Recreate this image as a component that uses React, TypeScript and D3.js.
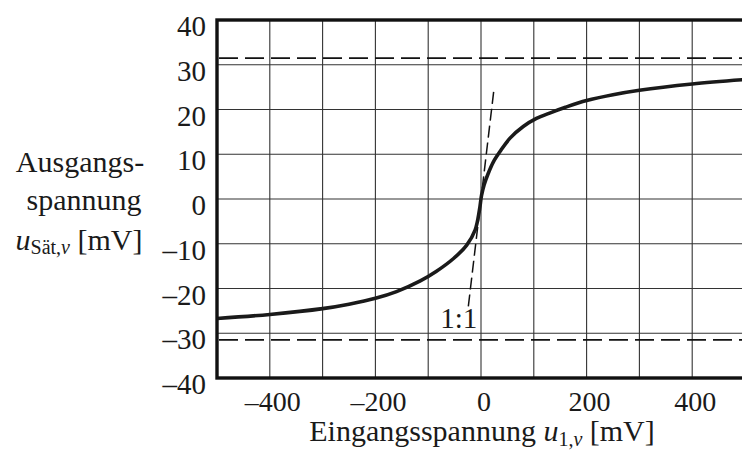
import React, { useRef, useEffect } from 'react';
import { select, scaleLinear, line, curveCatmullRom } from 'd3';

// Übertragungskennlinie (Eingang -> Ausgang) in mV
const inputMv = [-500, -400, -300, -250, -200, -160, -115, -85, -52, -27, -11, -3, 1, 6, 14, 23, 36, 55, 80, 105, 130, 160, 200, 250, 300, 400, 500];
const outputMv = [-26.7, -25.8, -24.5, -23.5, -22.2, -20.7, -18.3, -16.2, -13.3, -10.3, -6.9, -2.5, 0.8, 3.2, 5.8, 8.2, 10.6, 13.6, 16.2, 18.0, 19.2, 20.5, 22.0, 23.3, 24.3, 25.7, 26.7];
const satLevels = [31.5, -31.5];
const oneToOne = [-24, 25];
const xTicks = [-400, -200, 0, 200, 400];
const yTicks = [40, 30, 20, 10, 0, -10, -20, -30, -40];
const xGrid = [-500, -400, -300, -200, -100, 0, 100, 200, 300, 400, 500];

const FONT = '"Liberation Serif", "Times New Roman", serif';
const fmt = (v: number) => (v < 0 ? '\u2013' + Math.abs(v) : String(v));

function App() {
  const svgRef = useRef<SVGSVGElement>(null);

  useEffect(() => {
    const svg = select(svgRef.current);
    svg.selectAll('*').remove();

    const x = scaleLinear().domain([-500, 500]).range([217, 745]);
    const y = scaleLinear().domain([-40, 40]).range([378, 20]);

    // grid
    const grid = svg.append('g').attr('stroke', '#333').attr('stroke-width', 1.1);
    grid
      .selectAll('line.v')
      .data(xGrid)
      .join('line')
      .attr('x1', (d) => x(d))
      .attr('x2', (d) => x(d))
      .attr('y1', y(40))
      .attr('y2', y(-40));
    grid
      .selectAll('line.h')
      .data(yTicks)
      .join('line')
      .attr('x1', x(-500))
      .attr('x2', x(500))
      .attr('y1', (d) => y(d))
      .attr('y2', (d) => y(d));

    // saturation levels
    svg
      .append('g')
      .selectAll('line')
      .data(satLevels)
      .join('line')
      .attr('x1', x(-500) + 2)
      .attr('x2', x(500))
      .attr('y1', (d) => y(d))
      .attr('y2', (d) => y(d))
      .attr('stroke', '#111')
      .attr('stroke-width', 1.7)
      .attr('stroke-dasharray', '19 7');

    // 1:1 line
    svg
      .append('line')
      .attr('x1', x(oneToOne[0]))
      .attr('y1', y(oneToOne[0]))
      .attr('x2', x(oneToOne[1]))
      .attr('y2', y(oneToOne[1]))
      .attr('stroke', '#111')
      .attr('stroke-width', 1.5)
      .attr('stroke-dasharray', '12 5');

    // curve
    const pts = inputMv.map((v, i) => [v, outputMv[i]] as [number, number]);
    const path = line<[number, number]>()
      .x((d) => x(d[0]))
      .y((d) => y(d[1]))
      .curve(curveCatmullRom.alpha(0.5));
    svg
      .append('path')
      .attr('d', path(pts))
      .attr('fill', 'none')
      .attr('stroke', '#1a1a1a')
      .attr('stroke-width', 3.6)
      .attr('stroke-linejoin', 'round');

    // frame
    svg
      .append('rect')
      .attr('x', x(-500))
      .attr('y', y(40))
      .attr('width', x(500) - x(-500))
      .attr('height', y(-40) - y(40))
      .attr('fill', 'none')
      .attr('stroke', '#111')
      .attr('stroke-width', 3.4);

    const txt = svg.append('g').attr('font-family', FONT).attr('fill', '#1a1a1a');

    // y tick labels
    txt
      .selectAll('text.yt')
      .data(yTicks)
      .join('text')
      .attr('x', 206)
      .attr('y', (d) => y(d) + 16)
      .attr('text-anchor', 'end')
      .attr('font-size', 29)
      .text(fmt);

    // x tick labels
    txt
      .selectAll('text.xt')
      .data(xTicks)
      .join('text')
      .attr('x', (d) => x(d) + 3)
      .attr('y', 411)
      .attr('text-anchor', 'middle')
      .attr('font-size', 28)
      .text(fmt);

    // 1:1 label
    txt
      .append('text')
      .attr('x', x(-7))
      .attr('y', y(-28.8))
      .attr('text-anchor', 'end')
      .attr('font-size', 29)
      .text('1:1');

    // x title
    const xt = txt
      .append('text')
      .attr('x', 482)
      .attr('y', 441)
      .attr('text-anchor', 'middle')
      .attr('font-size', 30);
    xt.append('tspan').text('Eingangsspannung ');
    xt.append('tspan').attr('font-style', 'italic').text('u');
    xt.append('tspan').attr('font-size', 20).attr('dy', 5).text('1,');
    xt.append('tspan').attr('font-size', 20).attr('font-style', 'italic').text('\u03bd');
    xt.append('tspan').attr('dy', -5).text(' [mV]');

    // y title
    txt
      .append('text')
      .attr('x', 80)
      .attr('y', 172)
      .attr('text-anchor', 'middle')
      .attr('font-size', 30)
      .text('Ausgangs-');
    txt
      .append('text')
      .attr('x', 84)
      .attr('y', 210)
      .attr('text-anchor', 'middle')
      .attr('font-size', 30)
      .text('spannung');
    const yt = txt
      .append('text')
      .attr('x', 79)
      .attr('y', 250)
      .attr('text-anchor', 'middle')
      .attr('font-size', 30);
    yt.append('tspan').attr('font-style', 'italic').text('u');
    yt.append('tspan').attr('font-size', 20).attr('dy', 4).text('S\u00e4t,');
    yt.append('tspan').attr('font-size', 20).attr('font-style', 'italic').text('\u03bd');
    yt.append('tspan').attr('dy', -4).text(' [mV]');
  }, []);

  return (
    <svg
      ref={svgRef}
      width={742}
      height={450}
      style={{ position: 'absolute', left: 0, top: 0, background: '#fff' }}
    />
  );
}

export default App;
